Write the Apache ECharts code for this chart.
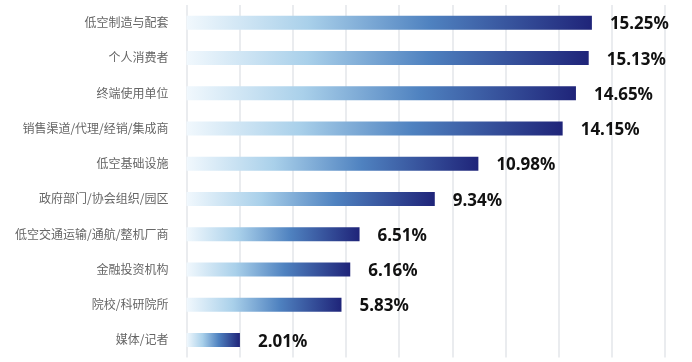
<!DOCTYPE html>
<html><head><meta charset="utf-8">
<script src="https://cdn.jsdelivr.net/npm/echarts@6/dist/echarts.min.js"></script>
<style>html,body{margin:0;padding:0;background:#fff}#c{width:692px;height:362px}</style>
</head><body><div id="c"></div>
<script>
const categories = ["低空制造与配套","个人消费者","终端使用单位","销售渠道/代理/经销/集成商","低空基础设施","政府部门/协会组织/园区","低空交通运输/通航/整机厂商","金融投资机构","院校/科研院所","媒体/记者"];
const values = [15.25,15.13,14.65,14.15,10.98,9.34,6.51,6.16,5.83,2.01];
const axisMax = 18;
const axisInterval = 2;

const chart = echarts.init(document.getElementById('c'));
chart.setOption({
  animation:false,
  grid:{left:186.5,right:27,top:5,bottom:4.5,containLabel:false},
  xAxis:{type:'value',min:0,max:axisMax,interval:axisInterval,
    axisLabel:{show:false},axisLine:{show:false},axisTick:{show:false},
    splitLine:{show:true,lineStyle:{color:'#e3e6ea',width:1.5}}},
  yAxis:{type:'category',inverse:true,data:categories,
    axisLine:{show:false},axisTick:{show:false},
    axisLabel:{color:'#666',fontSize:12,margin:18,fontFamily:'Noto Sans CJK SC'}},
  series:[{type:'bar',data:values,barWidth:14,
    itemStyle:{color:new echarts.graphic.LinearGradient(0,0,1,0,[
      {offset:0,color:'#f1f8fd'},
      {offset:0.3,color:'#a9d0ea'},
      {offset:0.6,color:'#4f82c0'},
      {offset:1,color:'#1f2479'}])},
    label:{show:true,position:'right',distance:18,offset:[0,2],formatter:p=>p.value.toFixed(2)+'%',
      color:'#111',fontSize:17,fontWeight:'bold',fontFamily:'Noto Sans'}}]
});
</script></body></html>
